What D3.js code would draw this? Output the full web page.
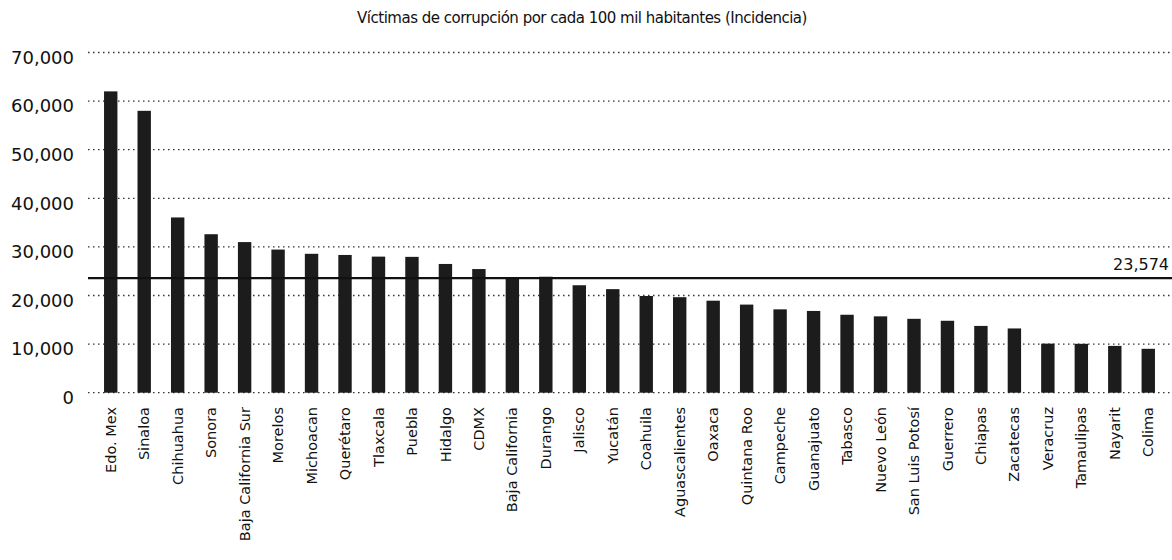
<!DOCTYPE html>
<html>
<head>
<meta charset="utf-8">
<script src="https://d3js.org/d3.v7.min.js"></script>
<style>
  body { margin: 0; background: #fff; }
  svg { display: block; }
</style>
</head>
<body>
<svg width="1172" height="560"></svg>
<script>
// data
var estados = ["Edo. Mex", "Sinaloa", "Chihuahua", "Sonora", "Baja California Sur", "Morelos",
    "Michoacan", "Querétaro", "Tlaxcala", "Puebla", "Hidalgo", "CDMX", "Baja California",
    "Durango", "Jalisco", "Yucatán", "Coahuila", "Aguascalientes", "Oaxaca", "Quintana Roo",
    "Campeche", "Guanajuato", "Tabasco", "Nuevo León", "San Luis Potosí", "Guerrero",
    "Chiapas", "Zacatecas", "Veracruz", "Tamaulipas", "Nayarit", "Colima"];
var incidencia = [62000, 58000, 36060, 32610, 30990, 29450,
    28580, 28340, 28000, 27950, 26490, 25440, 23700,
    23860, 22110, 21310, 19900, 19650, 18930, 18130,
    17150, 16820, 16040, 15710, 15200, 14800,
    13740, 13220, 10100, 10060, 9630, 9030];
var yTicks = [0, 10000, 20000, 30000, 40000, 50000, 60000, 70000];
var promedio = 23574;
var titulo = "Víctimas de corrupción por cada 100 mil habitantes (Incidencia)";

var data = estados.map(function (d, i) { return { estado: d, valor: incidencia[i] }; });

var svg = d3.select("svg"),
    fontFam = "'DejaVu Sans', 'Noto Sans', sans-serif",
    gridLeft = 88,
    gridRight = 1172;

// scales
var x = d3.scaleBand()
    .domain(estados)
    .range([94, 1165])
    .paddingInner(0.6)
    .paddingOuter(0.3);

var y = d3.scaleLinear()
    .domain([0, 70000])
    .range([392.7, 52.5]);

var fmt = d3.format(",");

// title
svg.append("text")
    .attr("x", 582)
    .attr("y", 23)
    .attr("text-anchor", "middle")
    .attr("font-family", fontFam)
    .attr("font-size", 15)
    .attr("letter-spacing", -0.5)
    .attr("fill", "#111")
    .text(titulo);

// dotted gridlines
svg.append("g")
    .attr("class", "grid")
    .selectAll("line")
    .data(yTicks)
    .enter().append("line")
    .attr("x1", gridLeft)
    .attr("x2", gridRight)
    .attr("y1", function (d) { return y(d); })
    .attr("y2", function (d) { return y(d); })
    .attr("stroke", "#333")
    .attr("stroke-width", 1.3)
    .attr("stroke-dasharray", "1.5,3.5");

// y axis labels (no domain line)
var axisY = svg.append("g")
    .attr("transform", "translate(" + (gridLeft - 14) + ",0)")
    .call(d3.axisLeft(y).tickValues(yTicks).tickFormat(fmt).tickSize(0).tickPadding(0));
axisY.select(".domain").remove();
axisY.selectAll("text")
    .attr("font-family", fontFam)
    .attr("font-size", 18)
    .attr("dy", "0.6em")
    .attr("fill", "#111");

// bars
svg.append("g")
    .attr("class", "bars")
    .selectAll("rect")
    .data(data)
    .enter().append("rect")
    .attr("x", function (d) { return x(d.estado); })
    .attr("y", function (d) { return y(d.valor); })
    .attr("width", x.bandwidth())
    .attr("height", function (d) { return y(0) - y(d.valor); })
    .attr("fill", "#1c1c1c");

// average line
svg.append("line")
    .attr("x1", gridLeft)
    .attr("x2", gridRight)
    .attr("y1", y(promedio))
    .attr("y2", y(promedio))
    .attr("stroke", "#111")
    .attr("stroke-width", 2.2);

svg.append("text")
    .attr("x", 1169)
    .attr("y", y(promedio) - 8)
    .attr("text-anchor", "end")
    .attr("font-family", fontFam)
    .attr("font-size", 16)
    .attr("fill", "#111")
    .text(fmt(promedio));

// x labels, rotated
var axisX = svg.append("g")
    .attr("transform", "translate(0," + 407 + ")")
    .call(d3.axisBottom(x).tickSize(0).tickPadding(0));
axisX.select(".domain").remove();
axisX.selectAll("text")
    .attr("font-family", fontFam)
    .attr("font-size", 14.5)
    .attr("fill", "#111")
    .attr("text-anchor", "end")
    .attr("transform", "rotate(-90)")
    .attr("x", 0)
    .attr("y", 0)
    .attr("dy", "0.35em");
</script>
</body>
</html>
